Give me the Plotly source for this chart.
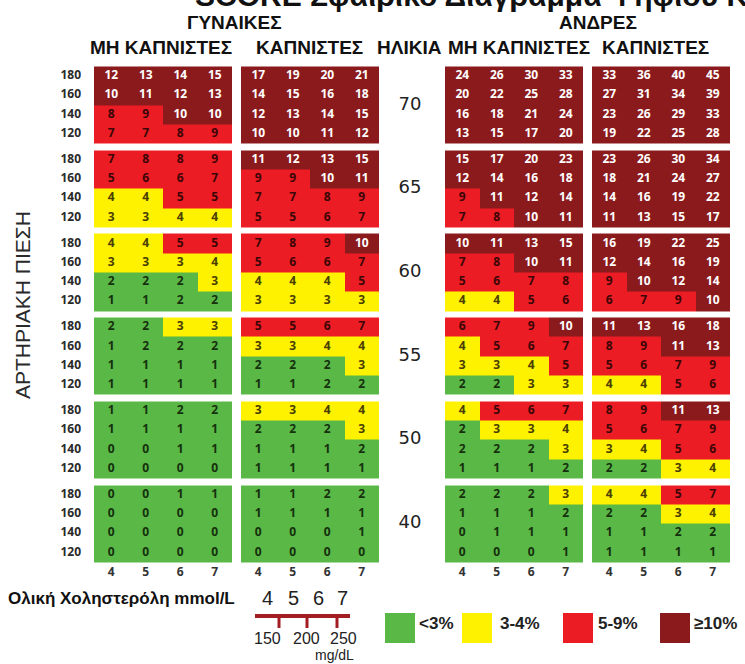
import plotly.graph_objects as go

# ---------------- data ----------------
ages = [70, 65, 60, 55, 50, 40]
sbp_levels = [180, 160, 140, 120]
chol_mmol = [4, 5, 6, 7]
chol_mgdl = [150, 200, 250]

women_nonsmoker = [
    [[12, 13, 14, 15], [10, 11, 12, 13], [8, 9, 10, 10], [7, 7, 8, 9]],
    [[7, 8, 8, 9], [5, 6, 6, 7], [4, 4, 5, 5], [3, 3, 4, 4]],
    [[4, 4, 5, 5], [3, 3, 3, 4], [2, 2, 2, 3], [1, 1, 2, 2]],
    [[2, 2, 3, 3], [1, 2, 2, 2], [1, 1, 1, 1], [1, 1, 1, 1]],
    [[1, 1, 2, 2], [1, 1, 1, 1], [0, 0, 1, 1], [0, 0, 0, 0]],
    [[0, 0, 1, 1], [0, 0, 0, 0], [0, 0, 0, 0], [0, 0, 0, 0]],
]
women_smoker = [
    [[17, 19, 20, 21], [14, 15, 16, 18], [12, 13, 14, 15], [10, 10, 11, 12]],
    [[11, 12, 13, 15], [9, 9, 10, 11], [7, 7, 8, 9], [5, 5, 6, 7]],
    [[7, 8, 9, 10], [5, 6, 6, 7], [4, 4, 4, 5], [3, 3, 3, 3]],
    [[5, 5, 6, 7], [3, 3, 4, 4], [2, 2, 2, 3], [1, 1, 2, 2]],
    [[3, 3, 4, 4], [2, 2, 2, 3], [1, 1, 1, 2], [1, 1, 1, 1]],
    [[1, 1, 2, 2], [1, 1, 1, 1], [0, 0, 0, 1], [0, 0, 0, 0]],
]
men_nonsmoker = [
    [[24, 26, 30, 33], [20, 22, 25, 28], [16, 18, 21, 24], [13, 15, 17, 20]],
    [[15, 17, 20, 23], [12, 14, 16, 18], [9, 11, 12, 14], [7, 8, 10, 11]],
    [[10, 11, 13, 15], [7, 8, 10, 11], [5, 6, 7, 8], [4, 4, 5, 6]],
    [[6, 7, 9, 10], [4, 5, 6, 7], [3, 3, 4, 5], [2, 2, 3, 3]],
    [[4, 5, 6, 7], [2, 3, 3, 4], [2, 2, 2, 3], [1, 1, 1, 2]],
    [[2, 2, 2, 3], [1, 1, 1, 2], [0, 1, 1, 1], [0, 0, 0, 1]],
]
men_smoker = [
    [[33, 36, 40, 45], [27, 31, 34, 39], [23, 26, 29, 33], [19, 22, 25, 28]],
    [[23, 26, 30, 34], [18, 21, 24, 27], [14, 16, 19, 22], [11, 13, 15, 17]],
    [[16, 19, 22, 25], [12, 14, 16, 19], [9, 10, 12, 14], [6, 7, 9, 10]],
    [[11, 13, 16, 18], [8, 9, 11, 13], [5, 6, 7, 9], [4, 4, 5, 6]],
    [[8, 9, 11, 13], [5, 6, 7, 9], [3, 4, 5, 6], [2, 2, 3, 4]],
    [[4, 4, 5, 7], [2, 2, 3, 4], [1, 1, 2, 2], [1, 1, 1, 1]],
]

risk_labels = ["<3%", "3-4%", "5-9%", "≥10%"]
risk_colors = ["#5ab847", "#fff200", "#ec1c24", "#8b1a1c"]
text_colors = ["#15300c", "#4a3f00", "#3a0606", "#ffffff"]

title_text = "SCORE Σφαιρικό Διάγραμμα Ψηφίου Κινδύνου"
sex_labels = ["ΓΥΝΑΙΚΕΣ", "ΑΝΔΡΕΣ"]
group_labels = ["ΜΗ ΚΑΠΝΙΣΤΕΣ", "ΚΑΠΝΙΣΤΕΣ", "ΗΛΙΚΙΑ", "ΜΗ ΚΑΠΝΙΣΤΕΣ", "ΚΑΠΝΙΣΤΕΣ"]
ytitle = "ΑΡΤΗΡΙΑΚΗ ΠΙΕΣΗ"
chol_title = "Ολική Χοληστερόλη mmol/L"

# ---------------- layout constants (pixel grid) ----------------
W, H = 745, 664
panel_x0 = [94, 241, 445, 592]
CELL_W = 34.5
TOP0 = 66.5
PITCH = 83.7
ROW_H = 19.3
AGE_X = 410
SBP_X = 81
CHOL_Y = 573
HEAD_FONT = "Liberation Sans"

panels = [women_nonsmoker, women_smoker, men_nonsmoker, men_smoker]


def cat(v):
    if v < 3:
        return 0
    if v < 5:
        return 1
    if v < 10:
        return 2
    return 3


cs = []
for i, c in enumerate(risk_colors):
    cs.append([i / 4, c])
    cs.append([(i + 1) / 4, c])

fig = go.Figure()

group_tops = [TOP0 + g * PITCH for g in range(len(ages))]
y_edges = []
for g, t in enumerate(group_tops):
    for k in range(len(sbp_levels) + 1):
        y_edges.append(t + k * ROW_H)

for p, data in enumerate(panels):
    x0 = panel_x0[p]
    x_edges = [x0 + i * CELL_W for i in range(len(chol_mmol) + 1)]
    z = []
    tx, ty, tt, tc = [], [], [], []
    for g, block in enumerate(data):
        for r, row in enumerate(block):
            z.append([cat(v) for v in row])
            for c, v in enumerate(row):
                tx.append(x0 + (c + 0.5) * CELL_W)
                ty.append(group_tops[g] + (r + 0.5) * ROW_H)
                tt.append(str(v))
                tc.append(text_colors[cat(v)])
        if g < len(data) - 1:
            z.append([None] * len(chol_mmol))
    fig.add_trace(go.Heatmap(
        x=x_edges, y=y_edges, z=z, zmin=-0.5, zmax=3.5, colorscale=cs,
        showscale=False, hoverinfo="skip", xgap=0, ygap=0))
    fig.add_trace(go.Scatter(
        x=tx, y=ty, text=tt, mode="text", hoverinfo="skip",
        textfont=dict(family="Open Sans", size=12, color=tc, weight="bold")))
    # cholesterol ticks under each panel
    fig.add_trace(go.Scatter(
        x=[x0 + (c + 0.5) * CELL_W for c in range(len(chol_mmol))],
        y=[CHOL_Y] * len(chol_mmol), text=[str(v) for v in chol_mmol],
        mode="text", hoverinfo="skip",
        textfont=dict(family="Open Sans", size=12, color="#333333", weight="bold")))

# SBP labels
sx, sy, st = [], [], []
for g, t in enumerate(group_tops):
    for r, s in enumerate(sbp_levels):
        sx.append(SBP_X)
        sy.append(t + (r + 0.5) * ROW_H)
        st.append(str(s))
fig.add_trace(go.Scatter(x=sx, y=sy, text=st, mode="text", textposition="middle left",
                         hoverinfo="skip",
                         textfont=dict(family="Open Sans", size=12, color="#2a2a2a", weight="bold")))

# Age labels
fig.add_trace(go.Scatter(x=[AGE_X] * len(ages), y=[t + 2 * ROW_H for t in group_tops],
                         text=[str(a) for a in ages], mode="text", hoverinfo="skip",
                         textfont=dict(family="DejaVu Sans", size=18, color="#222222")))

# Legend swatches
leg_x = [400, 477, 578, 675]
leg_tx = [419, 500, 598, 694]
LEG_Y = 628
fig.add_trace(go.Scatter(x=leg_x, y=[LEG_Y] * 4, mode="markers", hoverinfo="skip",
                         marker=dict(symbol="square", size=30, color=risk_colors,
                                     line=dict(width=0))))
fig.add_trace(go.Scatter(x=leg_tx, y=[LEG_Y - 3] * 4, text=risk_labels, mode="text",
                         textposition="middle right", hoverinfo="skip",
                         textfont=dict(family="Liberation Sans", size=17, color="#222222",
                                       weight="bold")))

# mg/dL bracket
BR_Y = 616
mg_x = [279, 307, 337]
bx = [255, 350]
fig.add_trace(go.Scatter(x=bx, y=[BR_Y, BR_Y], mode="lines", hoverinfo="skip",
                         line=dict(color="#a31e22", width=4)))
for mx in mg_x:
    fig.add_trace(go.Scatter(x=[mx, mx], y=[BR_Y, BR_Y + 12], mode="lines", hoverinfo="skip",
                             line=dict(color="#a31e22", width=3)))

ann = []
ann.append(dict(x=193, y=14, text=title_text, xanchor="left", yanchor="bottom",
                font=dict(family="Liberation Sans", size=30, color="#111111", weight="bold")))
ann.append(dict(x=234, y=22, text=sex_labels[0], xanchor="center", yanchor="middle",
                font=dict(family=HEAD_FONT, size=19, color="#111111", weight="bold")))
ann.append(dict(x=598, y=22, text=sex_labels[1], xanchor="center", yanchor="middle",
                font=dict(family=HEAD_FONT, size=19, color="#111111", weight="bold")))
for cx, lab in zip([161, 309, 409, 519, 655], group_labels):
    ann.append(dict(x=cx, y=47, text=lab, xanchor="center", yanchor="middle",
                    font=dict(family=HEAD_FONT, size=19, color="#111111",
                              weight="bold")))
ann.append(dict(x=22, y=305, text=ytitle, textangle=-90, xanchor="center", yanchor="middle",
                font=dict(family="Liberation Sans", size=21, color="#2a2a2a")))
ann.append(dict(x=6, y=598, text=chol_title, xanchor="left", yanchor="middle",
                font=dict(family="Liberation Sans", size=17, color="#111111", weight="bold")))
for cx, v in zip([267, 293, 318, 342], chol_mmol):
    ann.append(dict(x=cx, y=598, text=str(v), xanchor="center", yanchor="middle",
                    font=dict(family="Liberation Sans", size=20, color="#222222")))
for cx, v in zip([267, 306, 343], chol_mgdl):
    ann.append(dict(x=cx, y=638, text=str(v), xanchor="center", yanchor="middle",
                    font=dict(family="Liberation Sans", size=16, color="#222222")))
ann.append(dict(x=334, y=655, text="mg/dL", xanchor="center", yanchor="middle",
                font=dict(family="Liberation Sans", size=14, color="#222222")))
for a in ann:
    a.update(xref="x", yref="y", showarrow=False)

fig.update_layout(
    width=W, height=H, margin=dict(l=0, r=0, t=0, b=0),
    paper_bgcolor="white", plot_bgcolor="white", showlegend=False,
    xaxis=dict(range=[0, W], visible=False, fixedrange=True),
    yaxis=dict(range=[H, 0], visible=False, fixedrange=True),
    annotations=ann,
)

fig.write_html("out.html", config={"displayModeBar": False},
               post_script="document.body.style.margin='0';document.body.style.overflow='hidden';")
